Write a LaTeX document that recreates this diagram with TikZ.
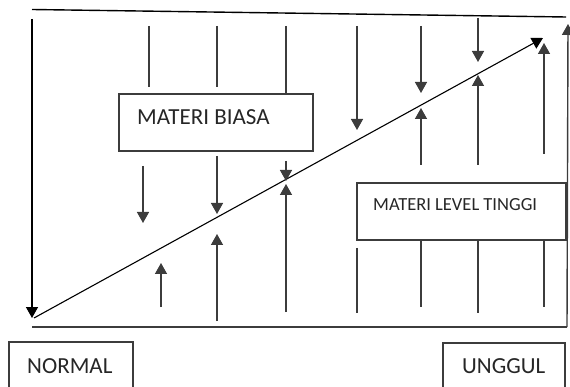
\documentclass[tikz,border=0pt]{standalone}
\usepackage{fontspec}
\setmainfont{Carlito}
\usetikzlibrary{arrows.meta}
\definecolor{linegray}{RGB}{60,60,60}

\begin{document}
\begin{tikzpicture}[x=1pt, y=-1pt,
      ln/.style={draw=linegray, line width=1.4pt},
      arr/.style={ln, -{Triangle[length=11pt, width=12pt]}},
      box/.style={draw=linegray, line width=1.4pt, inner sep=0pt},
      lab/.style={inner sep=0pt, anchor=base west, text=black!85, font=\fontsize{23}{27}\selectfont}
    ]
    \useasboundingbox (0,0) rectangle (570,387);
    % boxes
    \node[box, minimum width=194pt, minimum height=57pt] (biasa) at (216,122.5) {};
    \node[lab] (biasatxt) at (137,125) {MATERI BIASA};
    \node[box, minimum width=209pt, minimum height=57pt] (tinggi) at (461.5,211.5) {};
    \node[lab, font=\fontsize{18.5}{22}\selectfont] (tinggitxt) at (373,211) {MATERI LEVEL TINGGI};
    \node[box, minimum width=124pt, minimum height=60pt] (normal) at (71,372) {};
    \node[lab] (normaltxt) at (27,373) {NORMAL};
    \node[box, minimum width=122pt, minimum height=60pt] (unggul) at (504,373) {};
    \node[lab] (unggultxt) at (462,373) {UNGGUL};
    % frame
    \coordinate (tl) at (32,9.5);
    \coordinate (tr) at (566,17);
    \coordinate (bl) at (32,327);
    \coordinate (br) at (567,327);
    \coordinate (rtop) at (568,24);
    \coordinate (ltop) at (32,19);
    \coordinate (lbot) at (32,318);
    \coordinate (dstart) at (34,318);
    \coordinate (dend) at (543,38);
    \draw[ln, draw=black] (tl) -- (tr);
    \draw[ln] (bl) -- (br);
    \draw[arr] (br) -- (rtop);
    \draw[arr, draw=black] (ltop) -- (lbot);
    \draw[arr, draw=black, line width=1.1pt] (dstart) -- (dend);
    % column ends
    \coordinate (c1a) at (149,26);  \coordinate (c1b) at (149,87);
    \coordinate (c1c) at (143,166); \coordinate (c1d) at (143,223);
    \coordinate (c1e) at (161,307); \coordinate (c1f) at (161,263);
    \coordinate (c2a) at (217,26);  \coordinate (c2b) at (217,87);
    \coordinate (c2c) at (217,156); \coordinate (c2d) at (217,214);
    \coordinate (c2e) at (217,321); \coordinate (c2f) at (217,234);
    \coordinate (c3a) at (286,26);
    \coordinate (c3c) at (286,161); \coordinate (c3d) at (286,181);
    \coordinate (c3e) at (286,312); \coordinate (c3f) at (286,184);
    \coordinate (c4a) at (357,26);  \coordinate (c4b) at (357,130);
    \coordinate (c4c) at (357,248); \coordinate (c4d) at (357,313);
    \coordinate (c5a) at (421,26);  \coordinate (c5b) at (421,93);
    \coordinate (c5c) at (421,165); \coordinate (c5d) at (421,108);
    \coordinate (c5e) at (421,307);
    \coordinate (c6a) at (478,18);  \coordinate (c6b) at (478,62);
    \coordinate (c6c) at (478,165); \coordinate (c6d) at (478,75);
    \coordinate (c6e) at (478,313);
    \coordinate (c7a) at (544,154); \coordinate (c7b) at (544,43);
    \coordinate (c7e) at (544,307);
    % upper side, down arrows
    \draw[ln] (c1a) -- (c1b);
    \draw[ln] (c2a) -- (c2b);
    \draw[ln] (c3a) -- (c3a |- biasa.north);
    \draw[arr] (c1c) -- (c1d);
    \draw[arr] (c2c) -- (c2d);
    \draw[arr] (c3c) -- (c3d);
    \draw[arr] (c4a) -- (c4b);
    \draw[arr] (c5a) -- (c5b);
    \draw[arr] (c6a) -- (c6b);
    % lower side, up arrows
    \draw[arr] (c1e) -- (c1f);
    \draw[arr] (c2e) -- (c2f);
    \draw[arr] (c3e) -- (c3f);
    \draw[arr] (c5c) -- (c5d);
    \draw[arr] (c6c) -- (c6d);
    \draw[arr] (c7a) -- (c7b);
    % lines under the high level box
    \draw[ln] (c4c) -- (c4d);
    \draw[ln] (c5e |- tinggi.south) -- (c5e);
    \draw[ln] (c6e |- tinggi.south) -- (c6e);
    \draw[ln] (c7e |- tinggi.south) -- (c7e);
  \end{tikzpicture}
\end{document}
